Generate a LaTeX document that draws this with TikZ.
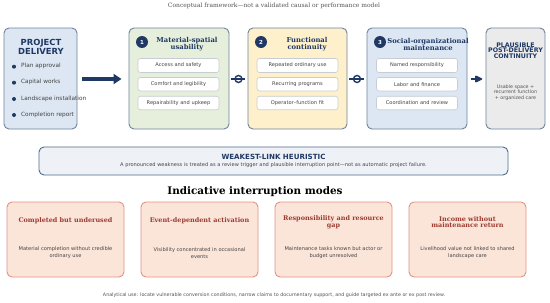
\documentclass[tikz,border=0pt]{standalone}
\usepackage{fontspec}
\setmainfont{DejaVu Serif}
\setsansfont{DejaVu Sans}
\usetikzlibrary{arrows.meta,calc}
\definecolor{navy}{HTML}{1F3864}
\definecolor{slate}{HTML}{6E83A0}
\definecolor{pdfill}{HTML}{DCE7F3}
\definecolor{greenfill}{HTML}{E5EFDB}
\definecolor{yellowfill}{HTML}{FDF0CB}
\definecolor{grayfill}{HTML}{EBEBEB}
\definecolor{weakfill}{HTML}{EEF2F6}
\definecolor{weakborder}{HTML}{4F6A8F}
\definecolor{modefill}{HTML}{FBE4D8}
\definecolor{modeborder}{HTML}{E29383}
\definecolor{modetitle}{HTML}{9C3B30}
\definecolor{bodygray}{HTML}{444444}
\definecolor{itemborder}{HTML}{C8CDD3}
\definecolor{titlegray}{HTML}{555555}
\tikzset{
  stagebox/.style={draw=slate, line width=0.9pt, rounded corners=5pt, minimum height=101pt, inner sep=0pt},
  itembox/.style={draw=itemborder, line width=0.6pt, fill=white, rounded corners=2.5pt, minimum width=81pt, minimum height=13.5pt, inner sep=0pt, font=\sffamily\fontsize{5.1}{6}\selectfont, text=bodygray},
  numcirc/.style={circle, fill=navy, minimum size=12pt, inner sep=0pt, text=white, font=\sffamily\bfseries\fontsize{5.5}{6}\selectfont},
  stagetitle/.style={align=center, text=navy, font=\bfseries\fontsize{6.8}{7.2}\selectfont, inner sep=0pt},
  bullettext/.style={anchor=west, inner sep=0pt, text=bodygray, font=\sffamily\fontsize{5.8}{6}\selectfont},
  bulletdot/.style={circle, fill=navy, minimum size=4pt, inner sep=0pt},
  modebox/.style={draw=modeborder, line width=0.9pt, fill=modefill, rounded corners=5pt, minimum width=117pt, minimum height=75pt, inner sep=0pt},
  modetitlestyle/.style={align=center, text=modetitle, font=\bfseries\fontsize{6.45}{6.7}\selectfont, inner sep=0pt},
  modebody/.style={align=center, text=bodygray, font=\sffamily\fontsize{5.1}{7}\selectfont, inner sep=0pt},
  linkline/.style={navy, line width=1.4pt},
  linkcirc/.style={circle, draw=navy, line width=1.4pt, minimum size=7pt, inner sep=0pt},
}
\begin{document}
\begin{tikzpicture}[x=1pt,y=-1pt]
\useasboundingbox[fill=white] (0,0) rectangle (550,303);

% top caption
\node[text=titlegray, font=\fontsize{6}{6.5}\selectfont, inner sep=0pt] (cap) at (274,6) {Conceptual framework—not a validated causal or performance model};

% project delivery
\node[stagebox, fill=pdfill, minimum width=73pt] (pd) at (40.5,78.5) {};
\node[align=center, text=navy, font=\sffamily\bfseries\fontsize{8.4}{9}\selectfont, inner sep=0pt] (pdt) at (41,47.2) {PROJECT\\DELIVERY};
\foreach \y/\t [count=\i] in {66.7/Plan approval, 82.7/Capital works, 99/Landscape installation, 115/Completion report}{
  \node[bulletdot] (pdb\i) at (14,\y) {};
  \node[bullettext] (pdl\i) at (21,\y-0.6) {\t};
}

% stage boxes
\node[stagebox, fill=greenfill, minimum width=100pt] (b1) at (179,78.5) {};
\node[stagebox, fill=yellowfill, minimum width=99pt] (b2) at (297.5,78.5) {};
\node[stagebox, fill=pdfill, minimum width=100pt] (b3) at (417,78.5) {};
\node[stagebox, fill=grayfill, minimum width=59pt] (fin) at (515.5,78.5) {};

\node[numcirc] (n1) at (142,42) {1};
\node[numcirc] (n2) at (261,42) {2};
\node[numcirc] (n3) at (380,42) {3};

\node[stagetitle] (t1) at (187,44.5) {Material-spatial\\usability};
\node[stagetitle] (t2) at (307,44.5) {Functional\\continuity};
\node[stagetitle] (t3) at (428,44.5) {Social-organizational\\maintenance};

\node[itembox, minimum height=14pt] (i11) at (178.5,65.5) {Access and safety};
\node[itembox] (i12) at (178.5,84.2) {Comfort and legibility};
\node[itembox] (i13) at (178.5,103) {Repairability and upkeep};

\node[itembox, minimum height=14pt] (i21) at (297.5,65.5) {Repeated ordinary use};
\node[itembox] (i22) at (297.5,84.2) {Recurring programs};
\node[itembox] (i23) at (297.5,103) {Operator–function fit};

\node[itembox, minimum height=14pt] (i31) at (417,65.5) {Named responsibility};
\node[itembox] (i32) at (417,84.2) {Labor and finance};
\node[itembox] (i33) at (417,103) {Coordination and review};

% final box text
\node[align=center, text=navy, font=\sffamily\bfseries\fontsize{6.3}{5.4}\selectfont, inner sep=0pt] (fint) at (515.5,50.5) {PLAUSIBLE\\POST-DELIVERY\\CONTINUITY};
\node[align=center, text=titlegray, font=\sffamily\fontsize{4.8}{5.5}\selectfont, inner sep=0pt] (finb) at (515.5,92.5) {Usable space +\\recurrent function\\+ organized care};

% connectors
\draw[navy, line width=3.6pt, -{Triangle[length=8pt,width=10pt]}, shorten <=4.5pt, shorten >=7pt] (pd.east |- 0,79) -- (b1.west |- 0,79);
\draw[linkline, shorten <=2pt, shorten >=3pt] (b1.east |- 0,79) -- node[linkcirc] (c1) {} (b2.west |- 0,79);
\draw[linkline, shorten <=2pt, shorten >=3pt] (b2.east |- 0,79) -- node[linkcirc] (c2) {} (b3.west |- 0,79);
\coordinate (a3s) at ($(b3.east |- 0,79)+(4,0)$);
\draw[navy, line width=2.6pt] (a3s) -- ++(5,0);
\filldraw[navy, line width=1.6pt, line join=round] ($(a3s)+(4.5,-2.6)$) -- ($(a3s)+(10,0)$) -- ($(a3s)+(4.5,2.6)$) -- cycle;

% weakest link
\node[draw=weakborder, line width=0.9pt, fill=weakfill, rounded corners=5pt, minimum width=469pt, minimum height=28pt, inner sep=0pt] (weak) at (273.5,161) {};
\node[text=navy, font=\sffamily\bfseries\fontsize{7.1}{7.5}\selectfont, inner sep=0pt] (weakt) at (273.5,156.7) {WEAKEST-LINK HEURISTIC};
\node[text=bodygray, font=\sffamily\fontsize{5.1}{5.5}\selectfont, inner sep=0pt] (weaks) at (273.5,165.3) {A pronounced weakness is treated as a review trigger and plausible interruption point—not as automatic project failure.};

% modes heading
\node[text=black, font=\bfseries\fontsize{10.4}{11}\selectfont, inner sep=0pt] (mh) at (255,192) {Indicative interruption modes};

\node[modebox] (m1) at (65.5,239.5) {};
\node[modebox] (m2) at (199.5,239.5) {};
\node[modebox] (m3) at (333.5,239.5) {};
\node[modebox] (m4) at (467.5,239.5) {};

\node[modetitlestyle] (mt1) at (65.5,221) {Completed but underused};
\node[modetitlestyle] (mt2) at (199.5,221) {Event-dependent activation};
\node[modetitlestyle] (mt3) at (333.5,222.3) {Responsibility and resource\\gap};
\node[modetitlestyle] (mt4) at (467.5,222.1) {Income without\\maintenance return};

\node[modebody] (mb1) at (65.5,252.8) {Material completion without credible\\ordinary use};
\node[modebody] (mb2) at (199.5,253.3) {Visibility concentrated in occasional\\events};
\node[modebody] (mb3) at (333.5,252.8) {Maintenance tasks known but actor or\\budget unresolved};
\node[modebody] (mb4) at (467.5,252.8) {Livelihood value not linked to shared\\landscape care};

% footer
\node[text=titlegray, font=\sffamily\fontsize{4.8}{5}\selectfont, inner sep=0pt] (foot) at (274,295.5) {Analytical use: locate vulnerable conversion conditions, narrow claims to documentary support, and guide targeted ex ante or ex post review.};
\end{tikzpicture}
\end{document}
